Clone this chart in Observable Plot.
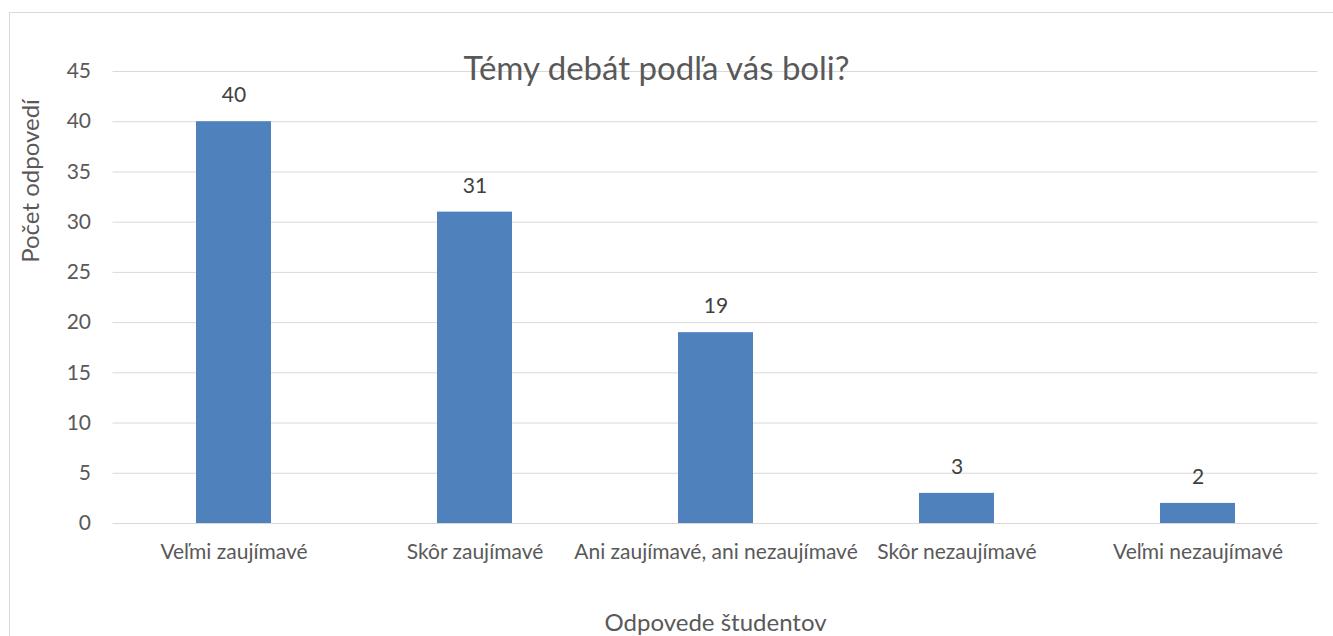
<!DOCTYPE html>
<html>
<head>
<meta charset="utf-8">
<script src="https://cdn.jsdelivr.net/npm/d3@7"></script>
<script src="https://cdn.jsdelivr.net/npm/@observablehq/plot@0.6"></script>
<style>
  html, body { margin: 0; padding: 0; background: #fff; }
  #wrap { position: relative; width: 1333px; height: 636px; overflow: hidden; }
  #border { position: absolute; left: 9px; top: 12px; width: 1340px; height: 700px; border: 1px solid #d9d9d9; box-sizing: border-box; pointer-events: none; }
  svg { display: block; }
</style>
</head>
<body>
<div id="wrap"><div id="border"></div><div id="chart"></div></div>
<script>
const categories = ["Veľmi zaujímavé", "Skôr zaujímavé", "Ani zaujímavé, ani nezaujímavé", "Skôr nezaujímavé", "Veľmi nezaujímavé"];
const counts = [40, 31, 19, 3, 2];
const yTicks = [0, 5, 10, 15, 20, 25, 30, 35, 40, 45];
const title = "Témy debát podľa vás boli?";
const xTitle = "Odpovede študentov";
const yTitle = "Počet odpovedí";

const data = categories.map((c, i) => ({category: c, count: counts[i]}));
const font = "Lato, 'Open Sans', sans-serif";
const textColor = "#595959";

const chart = Plot.plot({
  width: 1333,
  height: 636,
  marginLeft: 112.5,
  marginRight: 15.5,
  marginTop: 71,
  marginBottom: 113,
  style: {fontFamily: font, color: textColor, background: "transparent"},
  x: {domain: categories, paddingInner: 0.69, paddingOuter: 0.345, label: null},
  y: {domain: [0, 45], ticks: yTicks, label: null},
  marks: [
    Plot.gridY(yTicks, {stroke: "#d9d9d9", strokeOpacity: 1, strokeWidth: 1}),
    Plot.barY(data, {x: "category", y: "count", fill: "#4f81bd"}),
    Plot.text(data, {x: "category", y: "count", text: d => String(d.count), dy: -26, fontSize: 21, fill: "#404040", fontFamily: font}),
    Plot.axisX({tickSize: 0, tickPadding: 21, fontSize: 21, fill: textColor, fontFamily: font, label: null}),
    Plot.axisY(yTicks, {tickSize: 0, tickPadding: 22, fontSize: 21, fill: textColor, fontFamily: font, label: null}),
    Plot.text([title], {frameAnchor: "top", dx: -59, dy: -15, fontSize: 33, fill: textColor, fontFamily: font}),
    Plot.text([xTitle], {frameAnchor: "bottom", lineAnchor: "middle", dx: 0, dy: 100, fontSize: 24, fill: textColor, fontFamily: font}),
    Plot.text([yTitle], {frameAnchor: "top-left", textAnchor: "middle", lineAnchor: "middle", dx: -82, dy: 109.5, rotate: -90, fontSize: 24, fill: textColor, fontFamily: font})
  ]
});
document.getElementById("chart").appendChild(chart);
</script>
</body>
</html>
